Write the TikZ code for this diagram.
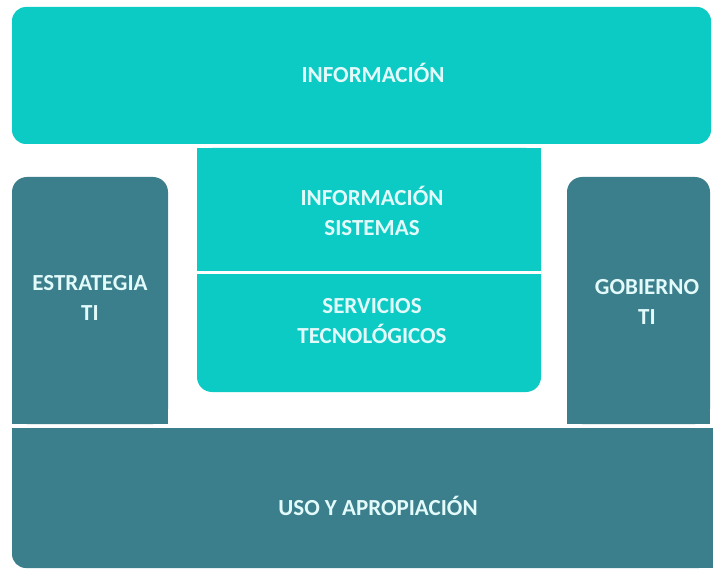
\documentclass[tikz,border=0pt]{standalone}
\usepackage{fontspec}
\setmainfont{Carlito}
\usetikzlibrary{positioning}
\definecolor{lightteal}{HTML}{0CCAC4}
\definecolor{darkteal}{HTML}{3B7E8C}
\definecolor{textcol}{HTML}{E2FAFA}
\tikzstyle{boxtext}=[text=textcol,font=\fontsize{23}{30.5}\selectfont\bfseries,align=center]

\begin{document}
\begin{tikzpicture}[x=1pt,y=-1pt]
    \useasboundingbox[fill=white] (0,0) rectangle (713,575);
    % top layer
    \fill[lightteal,rounded corners=14pt] (12,7) rectangle (711,144);
    % side columns
    \fill[darkteal,rounded corners=15pt] (12,177) rectangle (168,424);
    \fill[darkteal] (12,300) rectangle (168,424);
    \fill[darkteal,rounded corners=15pt] (567,177) rectangle (710,424);
    \fill[darkteal] (567,300) rectangle (710,424);
    % centre block
    \fill[lightteal,rounded corners=15pt] (197,148) rectangle (541,392);
    \fill[lightteal] (197,148) rectangle (541,260);
    \draw[white,line width=3pt] (197,272) -- (541,272);
    % bottom layer
    \fill[darkteal,rounded corners=14pt] (12,428) rectangle (713,568);
    \fill[darkteal] (12,428) rectangle (713,500);
    \fill[darkteal] (400,428) rectangle (713,568);

    \node[boxtext] (info) at (373,73) {INFORMACIÓN};
    \node[boxtext] (sistemas) at (372,211) {INFORMACIÓN\\SISTEMAS};
    \node[boxtext] (servicios) at (372,321) {SERVICIOS\\TECNOLÓGICOS};
    \node[boxtext] (estrategia) at (90,298) {ESTRATEGIA\\TI};
    \node[boxtext] (gobierno) at (647,302) {GOBIERNO\\TI};
    \node[boxtext] (uso) at (378,506) {USO Y APROPIACIÓN};
\end{tikzpicture}
\end{document}
